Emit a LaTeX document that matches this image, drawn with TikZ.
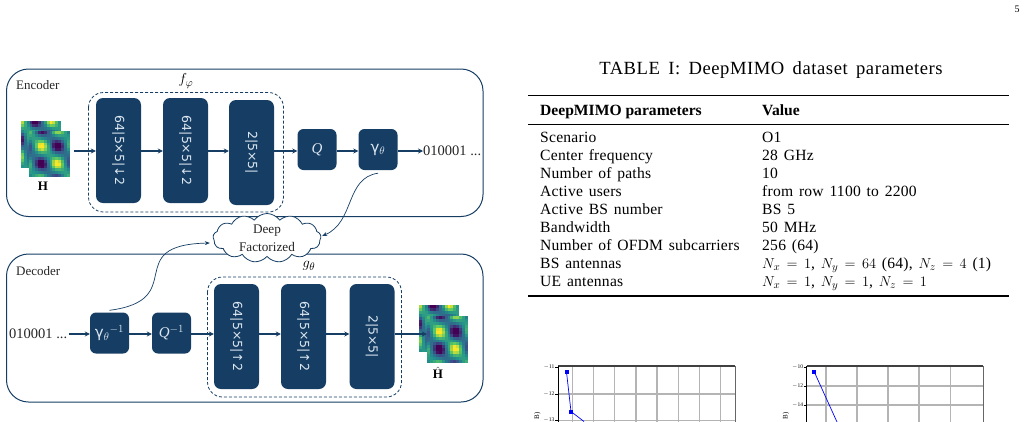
\documentclass[tikz,border=0pt]{standalone}
\usepackage{fontspec}
\setmainfont{Liberation Serif}
\newfontfamily\blockfont{DejaVu Sans}
\newfontfamily\captionfont[LetterSpace=3,WordSpace=1.6]{Liberation Serif}
\newfontfamily\tablefont[LetterSpace=1.5,WordSpace=1.4]{Liberation Serif}
\usetikzlibrary{arrows.meta,shapes.symbols}
\definecolor{navy}{HTML}{163E64}
\definecolor{blocktext}{HTML}{DCE6F0}
\definecolor{gridgray}{HTML}{B4B4B4}
\tikzset{
  x=1pt,y=-1pt,
  frame/.style={draw=navy,line width=1pt,rounded corners=22pt},
  group/.style={draw=navy,line width=0.8pt,densely dashed,rounded corners=15pt},
  tallblock/.style={fill=navy,rounded corners=7pt,rotate=-90,minimum width=105pt,minimum height=45pt,inner sep=0pt,
     text=blocktext,font=\blockfont\fontsize{12.5}{15}\selectfont},
  smallblock/.style={fill=navy,rounded corners=6pt,minimum width=39pt,minimum height=41pt,inner sep=0pt,
     text=blocktext,font=\fontsize{15}{17}\selectfont},
  flow/.style={draw=navy,line width=1.1pt,-{Stealth[length=5pt,width=5pt]}},
  link/.style={draw=navy,line width=0.7pt,-{Stealth[length=5pt,width=4pt]}},
  label/.style={inner sep=0pt,font=\fontsize{13}{15}\selectfont,text=black!85},
  bits/.style={inner sep=0pt,font=\fontsize{14.5}{17}\selectfont,text=black!85},
  tabcell/.style={anchor=base west,inner sep=0pt,font=\tablefont\fontsize{15.6}{18}\selectfont},
  tabhead/.style={anchor=base west,inner sep=0pt,font=\bfseries\fontsize{15.6}{18}\selectfont},
  tick/.style={font=\fontsize{5.5}{6}\selectfont,inner sep=0pt,anchor=east},
}
% Viridis-coloured field of cells; #5,#6 shift the phase of the pattern
\newcommand{\heatfield}[6]{%
  \foreach \i in {0,...,13}{\foreach \j in {0,...,15}{%
    \pgfmathsetmacro{\uu}{(\i+0.5)/14+#5}
    \pgfmathsetmacro{\ww}{(\j+0.5)/16+#6}
    \pgfmathsetmacro{\pr}{cos(360*(\uu-0.3)/0.8)*cos(360*(\ww-0.33)/0.75)}
    \pgfmathsetmacro{\sk}{cos(360*((\uu-0.3)-(\ww-0.33))/0.9)}
    \pgfmathsetmacro{\vv}{max(0,min(0.999,0.46+0.5*\pr*sqrt(abs(\pr))+0.1*\sk))}
    \pgfmathsetmacro{\tt}{\vv*4}
    \pgfmathtruncatemacro{\kk}{floor(\tt)}
    \pgfmathsetmacro{\ff}{\tt-\kk}
    \pgfmathsetmacro{\rr}{{0.267,0.229,0.128,0.369,0.993,0.993}[\kk]*(1-\ff)+{0.229,0.128,0.369,0.993,0.993,0.993}[\kk]*\ff}
    \pgfmathsetmacro{\gg}{{0.005,0.322,0.566,0.788,0.906,0.906}[\kk]*(1-\ff)+{0.322,0.566,0.788,0.906,0.906,0.906}[\kk]*\ff}
    \pgfmathsetmacro{\bb}{{0.329,0.546,0.551,0.384,0.144,0.144}[\kk]*(1-\ff)+{0.546,0.551,0.384,0.144,0.144,0.144}[\kk]*\ff}
    \definecolor{cellcolor}{rgb}{\rr,\gg,\bb}
    \fill[cellcolor] ({#1+\i*#3/14},{#2+\j*#4/16}) rectangle ({#1+(\i+1)*#3/14+0.3},{#2+(\j+1)*#4/16+0.3});
  }}%
}
\begin{document}
\begin{tikzpicture}
\useasboundingbox (0,0) rectangle (1028,421);
\node[inner sep=0pt,font=\fontsize{10}{12}\selectfont] (pageno) at (1017,9) {5};

% Encoder
\draw[frame] (6.5,69) rectangle (483,216.5);
\node[label,anchor=west] (enclabel) at (16,85) {Encoder};
\draw[group] (88.5,92.5) rectangle (283.5,212);
\node[inner sep=0pt,font=\fontsize{15.5}{17}\selectfont] (fphi) at (186,81) {$f_{\varphi}$};
\heatfield{21}{121}{40}{47}{0.35}{0.33}
\heatfield{29}{131}{41}{46}{0}{0}
\node[inner sep=0pt,minimum width=41pt,minimum height=46pt] (hin) at (49.5,154) {};
\node[inner sep=0pt,font=\bfseries\fontsize{13}{15}\selectfont] (hinlabel) at (43,186) {H};
\node[tallblock] (e1) at (118.5,150.5) {64|5×5|↓2};
\node[tallblock] (e2) at (185.5,150.5) {64|5×5|↓2};
\node[tallblock] (e3) at (251.5,152.5) {2|5×5|};
\node[smallblock] (q) at (317,149.5) {\textit{Q}};
\node[smallblock] (gam) at (378,149.5) {{\blockfont γ}$_{\theta}$};
\node[bits,anchor=west] (ebits) at (423,151) {010001 ...};
\coordinate (hs) at (hin.east |- ebits.west);
\draw[flow,shorten <=4pt] (hs) -- (hs -| e1.south);
\draw[flow] (e1.north |- hs) -- (hs -| e2.south);
\draw[flow] (e2.north |- hs) -- (hs -| e3.south);
\draw[flow] (e3.north |- hs) -- (hs -| q.west);
\draw[flow] (q.east |- hs) -- (hs -| gam.west);
\draw[flow] (gam.east |- hs) -- (ebits.west |- hs);

% Decoder
\draw[frame] (6.5,254) rectangle (483,402);
\node[label,anchor=west] (declabel) at (16,271) {Decoder};
\draw[group] (207.5,277) rectangle (401.5,397);
\node[inner sep=0pt,font=\fontsize{15.5}{17}\selectfont] (gtheta) at (309,266) {$g_{\theta}$};
\heatfield{419}{305}{40}{47}{0.35}{0.33}
\heatfield{427}{316}{41}{47}{0}{0}
\node[inner sep=0pt,minimum width=41pt,minimum height=47pt] (hout) at (447.5,339.5) {};
\node[inner sep=0pt,font=\bfseries\fontsize{13}{15}\selectfont] (houtlabel) at (438,373) {$\hat{\textbf{H}}$};
\node[bits,anchor=west] (dbits) at (9,334) {010001 ...};
\node[smallblock] (gaminv) at (109.5,333) {{\blockfont γ}$_{\theta}{}^{-1}$};
\node[smallblock] (qinv) at (171.5,333) {\textit{Q}$^{-1}$};
\node[tallblock] (d1) at (236.5,336.5) {64|5×5|↑2};
\node[tallblock] (d2) at (303.5,336.5) {64|5×5|↑2};
\node[tallblock] (d3) at (372,336.5) {2|5×5|};
\coordinate (ds) at (dbits.east);
\draw[flow] ([xshift=1.5pt]dbits.east) -- (ds -| gaminv.west);
\draw[flow] (gaminv.east |- ds) -- (ds -| qinv.west);
\draw[flow] (qinv.east |- ds) -- (ds -| d1.south);
\draw[flow] (d1.north |- ds) -- (ds -| d2.south);
\draw[flow] (d2.north |- ds) -- (ds -| d3.south);
\draw[flow] (d3.north |- ds) -- (ds -| hout.west);

% Shared entropy model
\node[cloud,draw=navy,fill=white,line width=0.8pt,cloud puffs=13,cloud puff arc=110,aspect=2.4,
      minimum width=108pt,minimum height=49pt,inner sep=0pt,align=center,
      font=\fontsize{13.2}{18}\selectfont,text=black!85] (cloud) at (267,238) {Deep\\Factorized};
\draw[link] (gam.south) ++(0,3) .. controls (345,178) and (355,222) .. ([xshift=1pt,yshift=2pt]cloud.east);
\draw[link] (gaminv.north) ++(0,-2) .. controls (190,300) and (120,245) .. ([xshift=-3pt]cloud.west |- 0,243);

% Parameter table
\node[inner sep=0pt,font=\captionfont\fontsize{18.6}{20}\selectfont] (caption) at (771,70) {TABLE I: DeepMIMO dataset parameters};
\draw[line width=1.3pt] (528,95.5) -- (1009,95.5);
\draw[line width=0.8pt] (528,124.3) -- (1009,124.3);
\draw[line width=1.3pt] (528,296) -- (1009,296);
\node[tabhead] (hdra) at (540,115) {DeepMIMO parameters};
\node[tabhead] (hdrb) at (762,115) {Value};
\foreach \row/\lft/\rgt in {
  0/Scenario/O1,
  1/Center frequency/28 GHz,
  2/Number of paths/10,
  3/Active users/from row 1100 to 2200,
  4/Active BS number/BS 5,
  5/Bandwidth/50 MHz,
  6/Number of OFDM subcarriers/256 (64),
  7/BS antennas/{$N_x\,=\,1$, $N_y\,=\,64$ (64), $N_z\,=\,4$ (1)},
  8/UE antennas/{$N_x\,=\,1$, $N_y\,=\,1$, $N_z\,=\,1$}}{
  \node[tabcell] (rowa\row) at (540,142.7+18*\row) {\lft};
  \node[tabcell] (rowb\row) at (762,142.7+18*\row) {\rgt};
}

% Tops of the two loss plots
\begin{scope}
\clip (530,355) rectangle (1028,421);
\foreach \x in {572.3,593.3,614.3,636,657,678.3,699.3,720.7}{\draw[gridgray,line width=1.1pt] (\x,366) -- (\x,425);}
\draw[gridgray,line width=1.1pt] (558,394) -- (735,394);
\draw[gridgray,line width=1.1pt] (558,420.5) -- (735,420.5);
\draw[black!75,line width=1.1pt] (558,366) -- (735,366);
\draw[black,line width=0.8pt] (558,366) -- (558,425);
\draw[black!60,line width=0.8pt] (735,366) -- (735,425);
\foreach \y/\t in {367/11,394/12,420/13}{
  \draw[black,line width=0.6pt] (555,\y) -- (558,\y);
  \node[tick] at (554.5,\y) {$-$\t};
}
\draw[blue,line width=0.7pt] (566.5,372) -- (571,411.5) -- (584,421.5);
\fill[blue] (564.5,370) rectangle (568.5,374);
\fill[blue] (569,409.5) rectangle (573,413.5);
\node[font=\fontsize{7}{8}\selectfont,rotate=90,inner sep=0pt] at (537.5,416) {B)};

\foreach \x in {826,857,888,919,950.3}{\draw[gridgray,line width=1.1pt] (\x,366) -- (\x,425);}
\foreach \y in {386,405}{\draw[gridgray,line width=1.1pt] (806.7,\y) -- (983,\y);}
\draw[black!75,line width=1.1pt] (806.7,366) -- (983,366);
\draw[black,line width=0.8pt] (806.7,366) -- (806.7,425);
\draw[black!60,line width=0.8pt] (983,366) -- (983,425);
\foreach \y/\t in {367/10,386/12,405/14}{
  \draw[black,line width=0.6pt] (803.7,\y) -- (806.7,\y);
  \node[tick] at (803.2,\y) {$-$\t};
}
\draw[blue,line width=0.7pt] (814.3,372) -- (837,422);
\fill[blue] (812.3,370) rectangle (816.3,374);
\node[font=\fontsize{7}{8}\selectfont,rotate=90,inner sep=0pt] at (786,416) {B)};
\end{scope}
\end{tikzpicture}
\end{document}
